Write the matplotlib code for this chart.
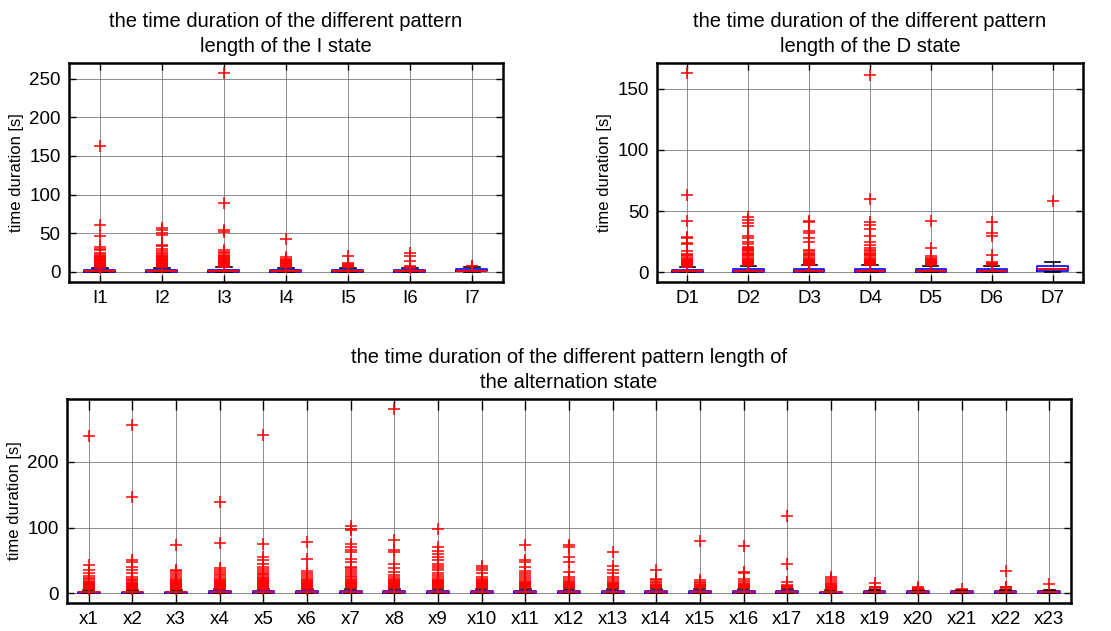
import numpy as np
import matplotlib.pyplot as plt

plt.rcParams['font.family'] = ['Liberation Sans', 'DejaVu Sans']

# --- I state ---
i_labels = ['I1', 'I2', 'I3', 'I4', 'I5', 'I6', 'I7']
i_q1 = [0.4, 0.4, 0.5, 0.4, 0.4, 0.4, 0.6]
i_med = [1.0, 1.1, 1.2, 1.0, 1.0, 1.0, 1.8]
i_q3 = [2.4, 2.6, 2.8, 2.5, 2.5, 2.4, 3.6]
i_whislo = [0, 0, 0, 0, 0, 0, 0]
i_whishi = [5, 5.5, 6, 5.5, 5.5, 5, 7]
i_fliers = [
    [163, 61, 47, 32, 30, 28, 25, 23, 21, 20, 19, 18, 17, 16,
     15, 14, 13, 12, 11, 10, 9.5, 9, 8.5, 8, 7.5, 7, 6.5, 6, 5.5],
    [57, 54, 50, 48, 35, 33, 30, 27, 25, 23, 21, 20, 19, 18, 17, 16,
     15, 14, 13, 12, 11, 10, 9, 8.5, 8, 7.5, 7, 6.5, 6],
    [257, 89, 54, 52, 28, 26, 24, 22, 20, 19, 18, 17, 16, 15, 14,
     13, 12, 11, 10, 9, 8, 7.5, 7, 6.5],
    [42, 19, 17, 16, 15, 14, 13, 12, 11, 10, 9, 8, 7, 6.5, 6],
    [21, 11, 10, 9, 8, 7.5, 7, 6.5, 6],
    [24, 21, 14, 8, 7, 6, 5.5],
    [8, 7.5],
]

# --- D state ---
d_labels = ['D1', 'D2', 'D3', 'D4', 'D5', 'D6', 'D7']
d_q1 = [0.4, 0.5, 0.5, 0.5, 0.5, 0.5, 0.6]
d_med = [1.0, 1.2, 1.2, 1.2, 1.2, 1.2, 2.6]
d_q3 = [2.2, 2.7, 2.8, 2.8, 2.6, 2.6, 4.8]
d_whislo = [0, 0, 0, 0, 0, 0, 0]
d_whishi = [4, 5, 5.5, 5.5, 5, 5, 8.5]
d_fliers = [
    [163, 63, 42, 29, 28, 24, 23, 17, 15, 14, 13, 12, 11, 10, 9.5, 9, 8.5, 8, 7.5,
     7, 6.5, 6, 5.5, 5, 4.5],
    [45, 43, 40, 38, 30, 28, 25, 23, 21, 20, 19, 18, 17, 16, 15,
     14, 13, 12, 11, 10, 9, 8.5, 8, 7.5, 7, 6.5, 6, 5.5],
    [42, 41, 34, 32, 28, 25, 18, 17, 16, 15, 14, 13, 12, 11, 10, 9.5, 9, 8.5, 8,
     7.5, 7, 6.5, 6],
    [161, 60, 41, 39, 35, 30, 25, 22, 20, 18, 17, 16, 15, 14, 13, 12, 11, 10, 9.5,
     9, 8.5, 8, 7.5, 7, 6.5, 6],
    [42, 20, 13, 12, 11, 10, 9, 8.5, 8, 7.5, 7, 6.5, 6],
    [41, 32, 30, 14, 8, 7.5, 7, 6.5, 6],
    [58],
]

# --- alternation state ---
x_labels = ['x%d' % k for k in range(1, 24)]
x_q1 = [0.4] * 23
x_med = [1.2, 1.2, 1.2, 1.3, 1.3, 1.5, 1.5, 1.5, 1.5, 1.5, 1.5, 1.4,
         1.4, 1.4, 1.4, 1.4, 1.4, 1.2, 1.3, 1.3, 1.3, 1.3, 1.3]
x_q3 = [2.4, 2.5, 2.4, 2.6, 2.7, 3.0, 3.0, 3.0, 3.0, 3.0, 3.0, 2.8,
        2.8, 2.8, 2.8, 2.8, 2.8, 2.4, 2.6, 2.6, 2.6, 2.6, 2.6]
x_whislo = [0] * 23
x_whishi = [5, 5, 5, 6, 6, 6.5, 6.5, 6.5, 6.5, 6.5, 6.5, 6, 6, 6, 6,
            6, 6, 5, 5.5, 5.5, 5.5, 5.5, 5.5]
x_fliers = [
    [240, 43, 35, 30, 26, 23, 21, 19, 17, 16, 15, 14, 13, 12, 11,
     10, 9, 8, 7, 6],
    [256, 146, 50, 47, 40, 35, 30, 25, 22, 20, 18, 16, 15, 14, 13, 12, 11,
     10, 9, 8, 7, 6],
    [74, 36, 33, 30, 27, 25, 22, 20, 18, 17, 16, 15, 14, 13,
     12, 11, 10, 9, 8, 7, 6],
    [139, 76, 38, 35, 32, 29, 27, 25, 22, 20, 18, 17, 16, 15, 14,
     13, 12, 11, 10, 9, 8, 7],
    [241, 75, 55, 50, 45, 40, 37, 34, 31, 29, 27, 25, 23, 21, 20, 19,
     18, 17, 16, 15, 14, 13, 12, 11, 10, 9, 8, 7],
    [78, 52, 33, 30, 27, 25, 22, 20, 18, 17, 16, 15, 14, 13, 12, 11,
     10, 9, 8, 7],
    [102, 98, 96, 75, 70, 66, 62, 52, 48, 40, 38, 35, 32, 29, 26, 24, 22,
     20, 18, 17, 16, 15, 14, 13, 12, 11, 10, 9, 8],
    [280, 81, 66, 62, 45, 38, 32, 28, 25, 22, 20, 18, 17, 16, 15, 14,
     13, 12, 11, 10, 9, 8],
    [98, 70, 65, 60, 55, 50, 45, 42, 38, 35, 31, 28, 25, 22, 20, 19,
     18, 17, 16, 15, 14, 13, 12, 11, 10, 9, 8],
    [42, 38, 35, 30, 25, 22, 20, 18, 17, 16, 15, 14, 13, 12, 11, 10, 9, 8],
    [74, 50, 47, 40, 33, 30, 27, 24, 21, 19, 17, 16, 15, 14, 13, 12,
     11, 10, 9, 8],
    [73, 70, 55, 47, 32, 25, 22, 19, 17, 15, 14, 13, 12, 11, 10, 9, 8],
    [63, 42, 35, 30, 25, 21, 18, 16, 15, 14, 13, 12, 11, 10, 9, 8],
    [35, 22, 20, 17, 15, 13, 12, 11, 10, 9, 8],
    [79, 20, 17, 15, 13, 12, 11, 10, 9, 8],
    [72, 32, 30, 22, 18, 16, 14, 13, 12, 11, 10, 9, 8],
    [118, 44, 17, 13, 11, 10, 9, 8],
    [25, 22, 19, 16, 14, 12, 11, 10, 9, 8, 7, 6],
    [15, 10, 9, 8],
    [9, 8, 7, 6.5],
    [7],
    [34, 10, 9, 8],
    [14],
]


def make_stats(labels, q1, med, q3, lo, hi, fliers):
    stats = []
    for k in range(len(labels)):
        stats.append({'label': labels[k], 'q1': q1[k], 'med': med[k], 'q3': q3[k],
                      'whislo': lo[k], 'whishi': hi[k], 'fliers': fliers[k]})
    return stats


def draw_box(ax, stats, ylim, yticks, title):
    ax.bxp(stats, widths=0.5, showfliers=True,
           boxprops=dict(color='blue', lw=1.2),
           medianprops=dict(color='red', lw=1.4),
           whiskerprops=dict(color='black', lw=1.0, ls='--'),
           capprops=dict(color='black', lw=1.2),
           flierprops=dict(marker='+', markeredgecolor='red', markersize=8.5, mew=1.1))
    ax.set_xlim(0.5, len(stats) + 0.5)
    ax.set_ylim(*ylim)
    ax.set_yticks(yticks)
    ax.grid(True, color='#7a7a7a', lw=0.6)
    ax.set_axisbelow(True)
    ax.tick_params(direction='in', top=True, right=True, length=5, width=1,
                   labelsize=13.5, pad=6)
    for s in ax.spines.values():
        s.set_linewidth(1.8)
    ax.set_ylabel('time duration [s]', fontsize=12, labelpad=4)
    ax.set_title(title, fontsize=14.5, pad=8, linespacing=1.4)


fig = plt.figure(figsize=(11.11, 6.31), dpi=100)

ax1 = fig.add_axes([0.0621, 0.5531, 0.3906, 0.347])
draw_box(ax1, make_stats(i_labels, i_q1, i_med, i_q3, i_whislo, i_whishi, i_fliers),
         (-13, 270), [0, 50, 100, 150, 200, 250],
         'the time duration of the different pattern\nlength of the I state')

ax2 = fig.add_axes([0.5914, 0.5531, 0.3834, 0.347])
draw_box(ax2, make_stats(d_labels, d_q1, d_med, d_q3, d_whislo, d_whishi, d_fliers),
         (-8, 171), [0, 50, 100, 150],
         'the time duration of the different pattern\nlength of the D state')

ax3 = fig.add_axes([0.0603, 0.0444, 0.9037, 0.3233])
draw_box(ax3, make_stats(x_labels, x_q1, x_med, x_q3, x_whislo, x_whishi, x_fliers),
         (-15, 296), [0, 100, 200],
         'the time duration of the different pattern length of\nthe alternation state')
ax3.tick_params(axis='x', length=8)

fig.savefig('out.png', dpi=100)
